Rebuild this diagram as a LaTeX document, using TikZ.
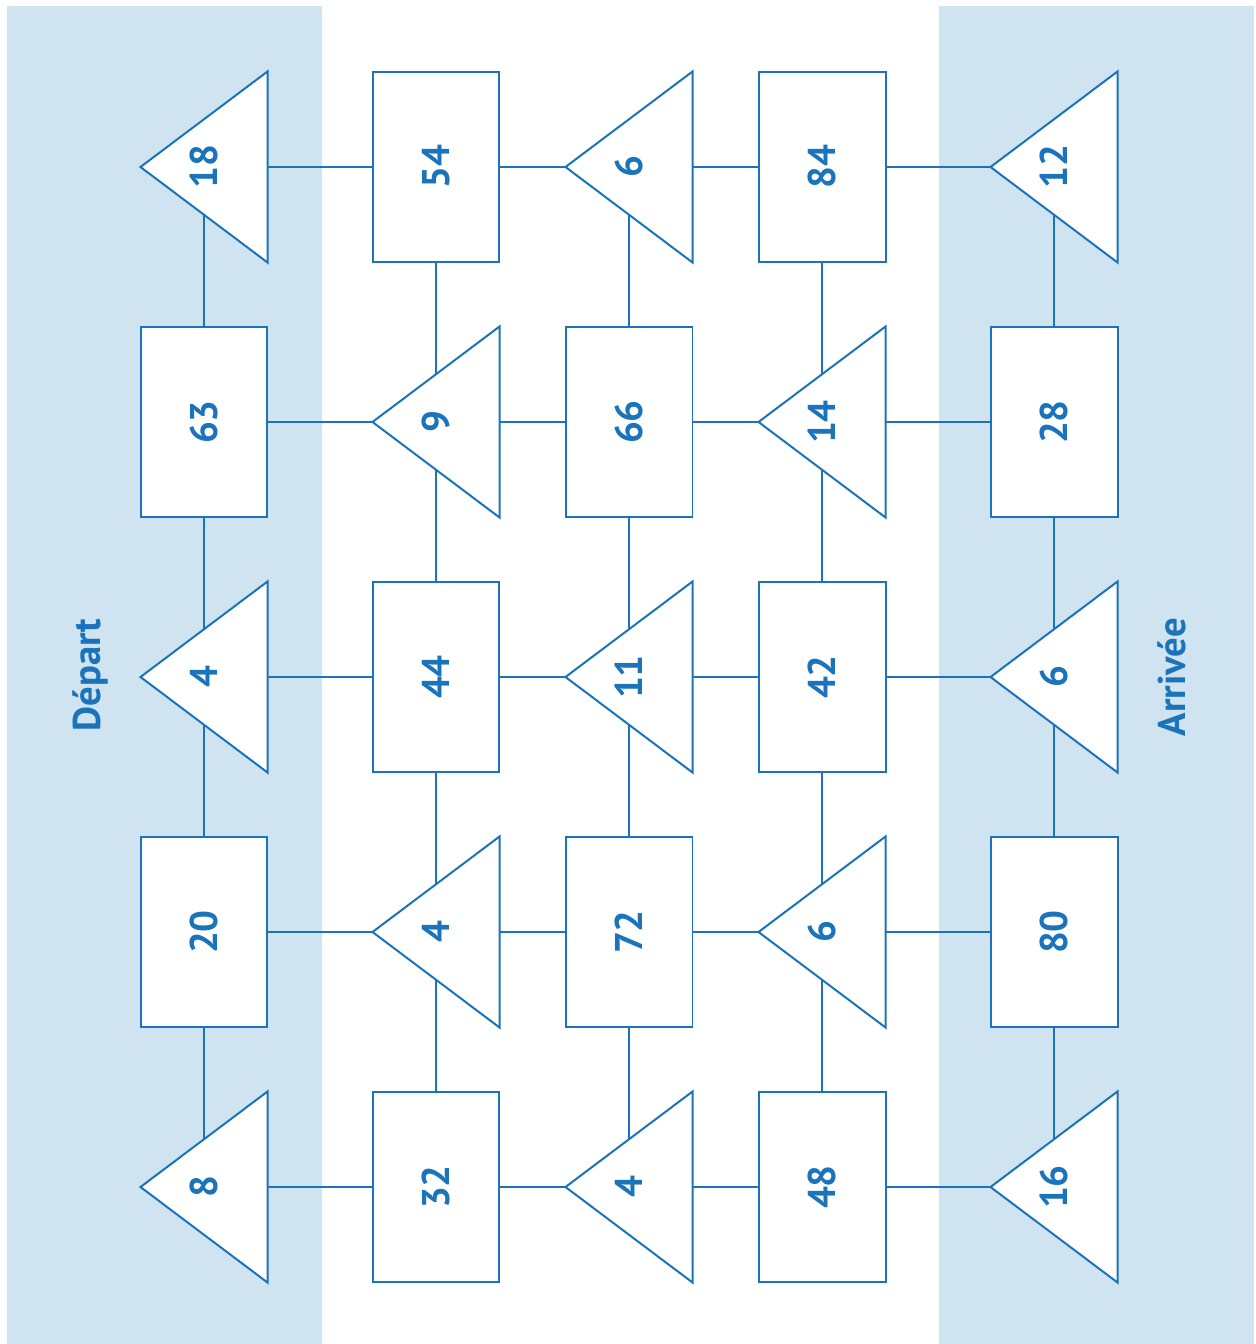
\documentclass[tikz,border=0pt]{standalone}
\usepackage{fontspec}
\setmainfont{PT Sans}
\usetikzlibrary{backgrounds}
\definecolor{ink}{RGB}{26,115,187}
\definecolor{band}{RGB}{208,227,241}
\newcommand{\rtxt}[1]{\rotatebox{90}{#1}}
\tikzset{
  cell/.style={minimum width=2.54cm, minimum height=3.82cm, inner sep=0pt, outer sep=0pt,
    text=ink, font=\fontsize{22}{26}\selectfont\bfseries},
  rectcell/.style={cell, draw=ink, fill=white, line width=0.04cm},
  tricell/.style={cell},
  triline/.style={draw=ink, fill=white, line width=0.04cm, line join=miter},
  link/.style={draw=ink, line width=0.04cm},
  bandtitle/.style={text=ink, font=\fontsize{22}{26}\selectfont\bfseries, inner sep=0pt}
}
\newcommand{\tri}[4]{% name, x, y, text
  \path[triline] (#2-63.5,#3) -- (#2+63.5,#3-95.5) -- (#2+63.5,#3+95.5) -- cycle;
  \node[tricell] (#1) at (#2,#3) {\rtxt{#4}};
}
\newcommand{\rct}[4]{%
  \node[rectcell] (#1) at (#2,#3) {\rtxt{#4}};
}
\begin{document}
\begin{tikzpicture}[x=0.02cm,y=-0.02cm]
\useasboundingbox (0,0) rectangle (1256,1344);
% row 0
\tri{a0}{204}{167}{18}
\rct{a1}{436}{167}{54}
\tri{a2}{629}{167}{6}
\rct{a3}{822}{167}{84}
\tri{a4}{1054}{167}{12}
% row 1
\rct{b0}{204}{422}{63}
\tri{b1}{436}{422}{9}
\rct{b2}{629}{422}{66}
\tri{b3}{822}{422}{14}
\rct{b4}{1054}{422}{28}
% row 2
\tri{c0}{204}{677}{4}
\rct{c1}{436}{677}{44}
\tri{c2}{629}{677}{11}
\rct{c3}{822}{677}{42}
\tri{c4}{1054}{677}{6}
% row 3
\rct{d0}{204}{932}{20}
\tri{d1}{436}{932}{4}
\rct{d2}{629}{932}{72}
\tri{d3}{822}{932}{6}
\rct{d4}{1054}{932}{80}
% row 4
\tri{e0}{204}{1187}{8}
\rct{e1}{436}{1187}{32}
\tri{e2}{629}{1187}{4}
\rct{e3}{822}{1187}{48}
\tri{e4}{1054}{1187}{16}
% titles
\node[bandtitle] (dep) at (90,675) {\rtxt{Départ}};
\node[bandtitle] (arr) at (1172,677) {\rtxt{Arrivée}};
\begin{pgfonlayer}{background}
  \fill[band] (7,6) rectangle (322,1344);
  \fill[band] (939,6) rectangle (1254,1344);
  \foreach \r in {a,b,c,d,e}{
    \foreach \c [count=\n from 1] in {0,1,2,3}{
      \draw[link] (\r\c.center) -- (\r\n.center);
    }
  }
  \foreach \c in {0,1,2,3,4}{
    \draw[link] (a\c.center) -- (b\c.center) -- (c\c.center) -- (d\c.center) -- (e\c.center);
  }
\end{pgfonlayer}
\end{tikzpicture}
\end{document}
